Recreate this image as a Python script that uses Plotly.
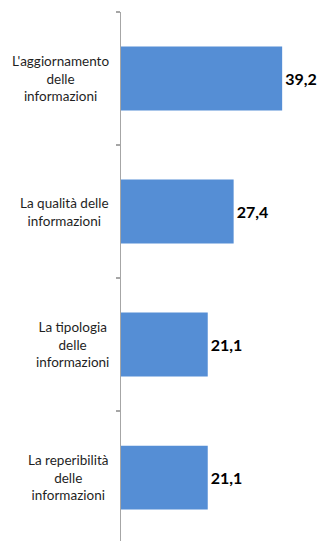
import plotly.graph_objects as go

categories = [
    "L'aggiornamento<br>delle<br>informazioni",
    "La qualità delle<br>informazioni",
    "La tipologia<br>delle<br>informazioni",
    "La reperibilità<br>delle<br>informazioni",
]
values = [39.2, 27.4, 21.1, 21.1]
value_labels = [f"{v:.1f}".replace(".", ",") for v in values]

W, H = 322, 541
ML, MT, MR, MB = 121, 12, 16, 0

fig = go.Figure()
fig.add_trace(go.Bar(
    x=values,
    y=list(range(len(categories))),
    orientation="h",
    marker=dict(color="#558ed5", line=dict(width=0)),
    width=0.48,
    text=value_labels,
    textposition="outside",
    textfont=dict(family="Lato", size=16, color="#000000", weight="bold"),
    constraintext="none",
    cliponaxis=False,
    hoverinfo="skip",
))

for i, c in enumerate(categories):
    fig.add_annotation(
        x=-10 / (W - ML - MR), xref="paper",
        y=i, yref="y",
        text=c, showarrow=False,
        xanchor="right", yanchor="middle", align="center",
        font=dict(family="Lato", size=13.5, color="#1f1f1f"),
    )

fig.update_layout(
    width=W, height=H,
    margin=dict(l=ML, r=MR, t=MT, b=MB, pad=0),
    plot_bgcolor="white", paper_bgcolor="white",
    showlegend=False,
    font=dict(family="Lato"),
    xaxis=dict(range=[0, 45], showgrid=False, zeroline=False, automargin=False,
               showticklabels=False, ticks="", showline=False),
    yaxis=dict(range=[3.477, -0.5], showgrid=False, zeroline=False,
               automargin=False,
               showticklabels=False, showline=True, linecolor="#a6a6a6",
               linewidth=1.5, ticks="outside", ticklen=4, tickcolor="#a6a6a6",
               tickwidth=1.5, tickmode="array",
               tickvals=[-0.5, 0.5, 1.5, 2.5, 3.5]),
)

fig.write_html(
    "out.html",
    config={"displayModeBar": False, "staticPlot": True},
    post_script="document.body.style.margin='0';document.body.style.overflow='hidden';",
)
